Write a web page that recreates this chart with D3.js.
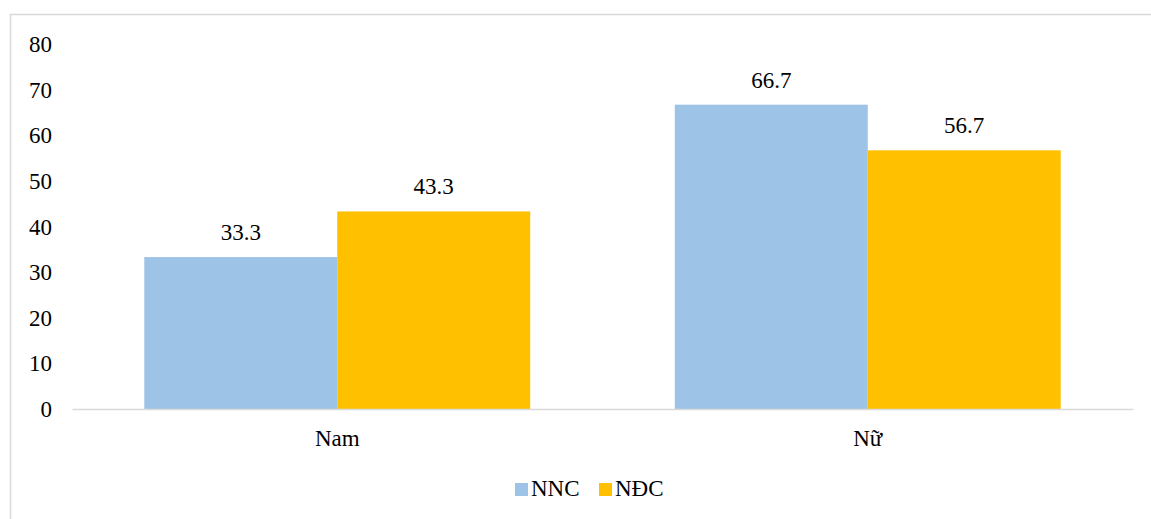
<!DOCTYPE html>
<html><head><meta charset="utf-8">
<script src="https://cdn.jsdelivr.net/npm/d3@7"></script>
<style>body{margin:0;background:#fff}</style>
</head><body><svg id="c" width="1151" height="519" style="display:block" font-family="Liberation Serif"></svg>
<script>
const categories = ["Nam", "Nữ"];
const seriesNames = ["NNC", "NĐC"];
const seriesColors = ["#9DC3E6", "#FFC000"];
const nncValues = [33.3, 66.7];
const ndcValues = [43.3, 56.7];
const yTicks = [0, 10, 20, 30, 40, 50, 60, 70, 80];

const values = [nncValues, ndcValues];
const svg = d3.select("#c");
const fs = 23;
const FF = "'Liberation Serif'";

svg.append("rect").attr("x",10.5).attr("y",14.5).attr("width",1300).attr("height",700)
  .attr("fill","none").attr("stroke","#d9d9d9").attr("stroke-width",1.5);

const y = d3.scaleLinear().domain([0,80]).range([409,44]);
const x0 = d3.scaleBand().domain(categories).range([72,1133]).paddingInner(0.2725).paddingOuter(0.13625);
const x1 = d3.scaleBand().domain(seriesNames).range([0, x0.bandwidth()]);

// y axis labels
const yAxis = d3.axisLeft(y).tickValues(yTicks).tickSize(0).tickPadding(0).tickFormat(d3.format("d"));
const ga = svg.append("g").attr("transform","translate(52,0)").call(yAxis)
  .attr("font-family","Liberation Serif").attr("font-size",fs);
ga.select(".domain").remove();
ga.selectAll("text").style("font-family",FF).style("font-size",fs+"px").attr("fill","#000").attr("dy","0.33em");

// bars
const groups = svg.append("g").attr("font-family","Liberation Serif").selectAll("g").data(categories).join("g")
  .attr("transform", d => `translate(${x0(d)},0)`);
groups.each(function(cat, ci){
  const g = d3.select(this);
  seriesNames.forEach((s, si) => {
    const v = values[si][ci];
    g.append("rect").attr("x", x1(s)).attr("width", x1.bandwidth())
      .attr("y", y(v)).attr("height", y(0)-y(v)).attr("fill", seriesColors[si]);
    g.append("text").attr("x", x1(s)+x1.bandwidth()/2).attr("y", y(v)-17)
      .attr("text-anchor","middle").style("font-family",FF).style("font-size",fs+"px").attr("fill","#000").text(v.toFixed(1));
  });
});

// x axis
const xAxis = d3.axisBottom(x0).tickSize(0).tickPadding(0);
const gx = svg.append("g").attr("transform","translate(0,409)").call(xAxis)
  .attr("font-family","Liberation Serif").attr("font-size",fs);
gx.select(".domain").attr("stroke","#d9d9d9").attr("stroke-width",1.5);
gx.selectAll("text").style("font-family",FF).style("font-size",fs+"px").attr("fill","#000").attr("dy",null).attr("y",37);

// legend
const legendX = [515, 599];
const lg = svg.append("g").attr("font-family","Liberation Serif");
seriesNames.forEach((s, i) => {
  lg.append("rect").attr("x", legendX[i]).attr("y",483).attr("width",13).attr("height",13).attr("fill",seriesColors[i]);
  lg.append("text").attr("x", legendX[i]+16).attr("y",496).style("font-family",FF).style("font-size",fs+"px").attr("fill","#000").text(s);
});
</script></body></html>
